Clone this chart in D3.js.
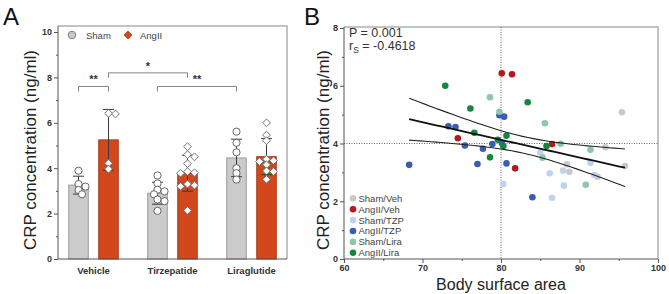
<!DOCTYPE html>
<html><head><meta charset="utf-8">
<script src="https://cdn.jsdelivr.net/npm/d3@7"></script>
<style>body{margin:0;background:#fff} svg{display:block;font-family:Arial,"Liberation Sans",sans-serif}</style>
</head><body><svg id="c" width="669" height="294"></svg>
<script>
// ---------- Panel A data ----------
const treatments = ["Vehicle", "Tirzepatide", "Liraglutide"];
const groupsA = ["Sham", "AngII"];
const shamVeh = [3.89, 3.30, 3.19, 3.04, 2.85];
const angVeh = [6.42, 6.39, 4.22, 3.96];
const shamTzp = [3.68, 3.33, 3.05, 2.98, 2.85, 2.62, 2.55, 2.12];
const angTzp = [4.95, 4.60, 4.50, 4.20, 3.85, 3.80, 3.78, 3.30, 3.25, 3.20, 2.14];
const shamLira = [5.61, 5.12, 4.70, 4.00, 3.78, 3.50];
const angLira = [6.00, 5.46, 5.21, 4.40, 4.33, 4.29, 4.15, 3.88, 3.85, 3.51];
const yTicksA = [0, 2, 4, 6, 8, 10];
const sigFrom = [["Vehicle", "Sham"], ["Vehicle", "AngII"], ["Tirzepatide", "Sham"]];
const sigTo = [["Vehicle", "AngII"], ["Tirzepatide", "AngII"], ["Liraglutide", "Sham"]];
const sigLevel = [7.6, 8.2, 7.6];
const sigText = ["**", "*", "**"];

// ---------- Panel B data ----------
const seriesB = ["Sham/Veh", "AngII/Veh", "Sham/TZP", "AngII/TZP", "Sham/Lira", "AngII/Lira"];
const bsaShamVeh = [95.4, 88.4, 88.7, 93.3, 92.3, 95.8];
const crpShamVeh = [5.08, 3.28, 3.02, 3.87, 2.85, 3.22];
const bsaAngVeh = [80.1, 81.4, 74.5, 81.8, 86.5];
const crpAngVeh = [6.43, 6.40, 4.18, 3.14, 3.98];
const bsaShamTzp = [80.3, 86.5, 85.0, 86.2, 87.9, 88.0, 91.4, 91.9];
const crpShamTzp = [2.60, 2.12, 3.68, 2.97, 3.06, 2.54, 3.33, 2.91];
const bsaAngTzp = [79.8, 80.4, 73.3, 74.2, 75.4, 77.7, 78.9, 68.3, 77.0, 80.7, 84.0, 80.1];
const crpAngTzp = [4.98, 4.93, 4.60, 4.57, 3.93, 3.82, 3.98, 3.26, 3.29, 3.31, 2.14, 4.02];
const bsaShamLira = [78.6, 79.8, 85.6, 85.3, 87.6, 91.4, 90.8];
const crpShamLira = [5.60, 5.10, 4.70, 3.51, 3.99, 3.78, 2.57];
const bsaAngLira = [72.9, 83.4, 76.1, 76.6, 79.6, 80.7, 80.3, 78.6, 85.8];
const crpAngLira = [6.00, 5.43, 5.21, 4.37, 4.13, 4.27, 3.91, 3.52, 3.91];
const xTicksB = [60, 70, 80, 90, 100];
const yTicksB = [0, 2, 4, 6, 8];
const refX = 80, refY = 4;
const statP = "P = 0.001", statR = " = -0.4618";

const colorsB = ["#c9c9c9", "#b3191f", "#bdd3ee", "#3a5cb3", "#8fc6a6", "#12883e"];

const svg = d3.select("#c");
const dark = "#333";
const diamond = r => `M0,${-r}L${r},0L0,${r}L${-r},0Z`;

// ================= Panel A =================
const A = {l: 58, r: 287, t: 26, b: 259};
const yA = d3.scaleLinear().domain([0, 10]).range([259, 32]);
const xA = d3.scalePoint().domain(treatments).range([93.5, 251.5]);
const xSub = d3.scaleBand().domain(groupsA).range([-30, 30]).paddingInner(0.35).paddingOuter(0.175);
const dataA = {
  "Vehicle|Sham": shamVeh, "Vehicle|AngII": angVeh,
  "Tirzepatide|Sham": shamTzp, "Tirzepatide|AngII": angTzp,
  "Liraglutide|Sham": shamLira, "Liraglutide|AngII": angLira
};
const cx = (t, g) => xA(t) + xSub(g) + xSub.bandwidth() / 2;

// frame
svg.append("path").attr("d", `M${A.l},${A.t}H${A.r}V${A.b}`).attr("fill", "none").attr("stroke", "#b0b0b0").attr("stroke-width", 1.5);

const gA = svg.append("g");
treatments.forEach(t => groupsA.forEach(g => {
  const vals = dataA[t + "|" + g];
  const m = d3.mean(vals), sd = d3.deviation(vals);
  const x0 = xA(t) + xSub(g), c = cx(t, g);
  gA.append("rect").attr("x", x0).attr("y", yA(m)).attr("width", xSub.bandwidth()).attr("height", yA(0) - yA(m))
    .attr("fill", g === "Sham" ? "#cbcbcb" : "#d2481c").attr("stroke", g === "Sham" ? "#9a9a9a" : "#a8391a").attr("stroke-width", 1);
  // error bar
  const eb = gA.append("g").attr("stroke", "#3a3a3a").attr("stroke-width", 1);
  eb.append("line").attr("x1", c).attr("x2", c).attr("y1", yA(m - sd)).attr("y2", yA(m + sd));
  [m - sd, m + sd].forEach(v => eb.append("line").attr("x1", c - 5.5).attr("x2", c + 5.5).attr("y1", yA(v)).attr("y2", yA(v)));
  // points (compact beeswarm, overlap allowed)
  const r = 3.6, placed = [];
  vals.slice().sort((a, b) => b - a).forEach(v => {
    const py = yA(v);
    const cands = [0, 1, -1, 2, -2, 3, -3].map(k => k * 3.5);
    let ox = 0;
    for (const o of cands) {
      if (placed.every(p => Math.hypot(p[0] - o, p[1] - py) >= 4.6)) { ox = o; break; }
    }
    placed.push([ox, py]);
  });
  placed.forEach(([ox, py]) => {
    if (g === "Sham") {
      gA.append("circle").attr("cx", c + ox).attr("cy", py).attr("r", r).attr("fill", "#fff").attr("stroke", "#555").attr("stroke-width", 0.9);
    } else {
      gA.append("path").attr("d", diamond(3.9)).attr("transform", `translate(${c + ox},${py})`)
        .attr("fill", "#fff").attr("stroke", "#666").attr("stroke-width", 0.9);
    }
  });
}));

// axes A
const axA = svg.append("g").attr("transform", `translate(${A.l},0)`)
  .call(d3.axisLeft(yA).tickValues(yTicksA).tickSize(4).tickPadding(2).tickFormat(d3.format("d")));
axA.select(".domain").attr("d", `M0,${A.b}V${A.t}`).attr("stroke", "#555");
axA.selectAll(".tick line").attr("stroke", "#555");
axA.selectAll("text").attr("font-size", 9).attr("font-weight", "bold").attr("fill", dark).attr("font-family", "Arial, Liberation Sans");
svg.append("g").attr("transform", `translate(${A.l},0)`)
  .call(d3.axisLeft(yA).tickValues([1, 3, 5, 7, 9]).tickSize(2).tickFormat(""))
  .call(s => { s.select(".domain").remove(); s.selectAll("line").attr("stroke", "#555"); });
svg.append("line").attr("x1", A.l).attr("x2", A.r).attr("y1", A.b).attr("y2", A.b).attr("stroke", "#555").attr("stroke-width", 1);
treatments.forEach(t => svg.append("text").attr("x", xA(t)).attr("y", 274).attr("text-anchor", "middle")
  .attr("font-size", 9.5).attr("font-weight", "bold").attr("fill", dark).text(t));
svg.append("text").attr("transform", `translate(36,150) rotate(-90)`).attr("text-anchor", "middle")
  .attr("font-size", 17).attr("fill", "#222").text("CRP concentration (ng/ml)");
svg.append("text").attr("x", 3).attr("y", 25).attr("font-size", 24).attr("fill", "#111").text("A");

// significance
sigText.forEach((s, i) => {
  const x1 = cx(...sigFrom[i]), x2 = cx(...sigTo[i]), y = yA(sigLevel[i]);
  svg.append("path").attr("d", `M${x1},${y + 5}V${y}H${x2}V${y + 5}`).attr("fill", "none").attr("stroke", "#777").attr("stroke-width", 0.9);
  svg.append("text").attr("x", (x1 + x2) / 2).attr("y", y - 3).attr("text-anchor", "middle").attr("font-size", 11).attr("font-weight", "bold").attr("fill", dark).text(s);
});

// legend A
svg.append("circle").attr("cx", 72).attr("cy", 35).attr("r", 3.8).attr("fill", "#c8c8c8").attr("stroke", "#777").attr("stroke-width", 0.9);
svg.append("text").attr("x", 86).attr("y", 38.5).attr("font-size", 9.5).attr("fill", "#444").text(groupsA[0]);
svg.append("path").attr("d", diamond(4)).attr("transform", "translate(128,35)").attr("fill", "#d2481c").attr("stroke", "#a8391a").attr("stroke-width", 0.8);
svg.append("text").attr("x", 140).attr("y", 38.5).attr("font-size", 9.5).attr("fill", "#444").text(groupsA[1]);

// ================= Panel B =================
const B = {l: 344, r: 658, t: 27, b: 259};
const xB = d3.scaleLinear().domain([60, 100]).range([344, 658]);
const yB = d3.scaleLinear().domain([0, 8]).range([259, 28]);
const bsaAll = [bsaShamVeh, bsaAngVeh, bsaShamTzp, bsaAngTzp, bsaShamLira, bsaAngLira];
const crpAll = [crpShamVeh, crpAngVeh, crpShamTzp, crpAngTzp, crpShamLira, crpAngLira];

svg.append("path").attr("d", `M${B.l},${B.t}H${B.r}V${B.b}`).attr("fill", "none").attr("stroke", "#b0b0b0").attr("stroke-width", 1.5);

// reference lines
svg.append("line").attr("x1", xB(refX)).attr("x2", xB(refX)).attr("y1", B.t).attr("y2", B.b).attr("stroke", "#666").attr("stroke-dasharray", "1,1.5");
svg.append("line").attr("x1", B.l).attr("x2", B.r).attr("y1", yB(refY)).attr("y2", yB(refY)).attr("stroke", "#666").attr("stroke-dasharray", "1,1.5");

// points
const pts = [];
bsaAll.forEach((xs, si) => xs.forEach((x, i) => pts.push({x, y: crpAll[si][i], s: si})));
const gB = svg.append("g");
pts.forEach(p => gB.append("circle").attr("cx", xB(p.x)).attr("cy", yB(p.y)).attr("r", 3.3).attr("fill", colorsB[p.s]));

// regression + 95% CI
const n = pts.length, mx = d3.mean(pts, p => p.x), my = d3.mean(pts, p => p.y);
const sxx = d3.sum(pts, p => (p.x - mx) ** 2), sxy = d3.sum(pts, p => (p.x - mx) * (p.y - my));
const slope = sxy / sxx, icpt = my - slope * mx;
const sse = d3.sum(pts, p => (p.y - (icpt + slope * p.x)) ** 2), se = Math.sqrt(sse / (n - 2));
const tq = 2.014;
const [xmin, xmax] = d3.extent(pts, p => p.x);
const xsLine = d3.range(0, 41).map(i => xmin + (xmax - xmin) * i / 40);
const band = k => xsLine.map(x => [x, icpt + slope * x + k * tq * se * Math.sqrt(1 / n + (x - mx) ** 2 / sxx)]);
const ln = d3.line().x(d => xB(d[0])).y(d => yB(d[1]));
svg.append("path").attr("d", ln(band(1))).attr("fill", "none").attr("stroke", "#222").attr("stroke-width", 1.1);
svg.append("path").attr("d", ln(band(-1))).attr("fill", "none").attr("stroke", "#222").attr("stroke-width", 1.1);
svg.append("path").attr("d", ln(band(0))).attr("fill", "none").attr("stroke", "#111").attr("stroke-width", 1.8);

// axes B
const axBy = svg.append("g").attr("transform", `translate(${B.l},0)`)
  .call(d3.axisLeft(yB).tickValues(yTicksB).tickSize(4).tickPadding(2).tickFormat(d3.format("d")));
axBy.select(".domain").attr("d", `M0,${B.b}V${B.t}`).attr("stroke", "#555");
axBy.selectAll(".tick line").attr("stroke", "#555");
axBy.selectAll("text").attr("font-size", 9).attr("font-weight", "bold").attr("fill", dark).attr("font-family", "Arial, Liberation Sans");
svg.append("g").attr("transform", `translate(${B.l},0)`)
  .call(d3.axisLeft(yB).tickValues([1, 3, 5, 7]).tickSize(2).tickFormat(""))
  .call(s => { s.select(".domain").remove(); s.selectAll("line").attr("stroke", "#555"); });
const axBx = svg.append("g").attr("transform", `translate(0,${B.b})`)
  .call(d3.axisBottom(xB).tickValues(xTicksB).tickSize(4).tickPadding(2).tickFormat(d3.format("d")));
axBx.select(".domain").attr("d", `M${B.l},0H${B.r}`).attr("stroke", "#555");
axBx.selectAll(".tick line").attr("stroke", "#555");
axBx.selectAll("text").attr("font-size", 9).attr("font-weight", "bold").attr("fill", dark).attr("font-family", "Arial, Liberation Sans");
svg.append("g").attr("transform", `translate(0,${B.b})`)
  .call(d3.axisBottom(xB).tickValues([65, 75, 85, 95]).tickSize(2).tickFormat(""))
  .call(s => { s.select(".domain").remove(); s.selectAll("line").attr("stroke", "#555"); });

svg.append("text").attr("x", (B.l + B.r) / 2).attr("y", 290).attr("text-anchor", "middle").attr("font-size", 16).attr("fill", "#222").text("Body surface area");
svg.append("text").attr("transform", `translate(329,150) rotate(-90)`).attr("text-anchor", "middle")
  .attr("font-size", 17).attr("fill", "#222").text("CRP concentration (ng/ml)");
svg.append("text").attr("x", 304).attr("y", 25).attr("font-size", 24).attr("fill", "#111").text("B");

// stats
svg.append("text").attr("x", 349).attr("y", 37).attr("font-size", 12.5).attr("fill", "#333").text(statP);
const rt = svg.append("text").attr("x", 349).attr("y", 50).attr("font-size", 12.5).attr("fill", "#333");
rt.append("tspan").text("r");
rt.append("tspan").attr("font-size", 8.5).attr("dy", 3).text("S");
rt.append("tspan").attr("dy", -3).text(statR);

// legend B
seriesB.forEach((s, i) => {
  const y = 198.3 + i * 10.9;
  svg.append("circle").attr("cx", 353).attr("cy", y).attr("r", 3.3).attr("fill", colorsB[i]);
  svg.append("text").attr("x", 358.5).attr("y", y + 3.4).attr("font-size", 9.5).attr("fill", "#444").text(s);
});
</script></body></html>
